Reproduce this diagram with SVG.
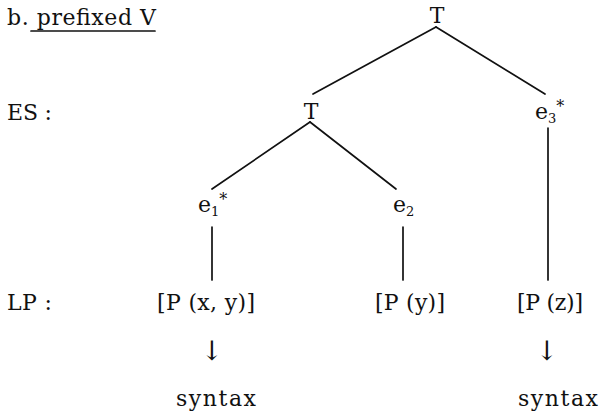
<svg xmlns="http://www.w3.org/2000/svg" width="601" height="412" viewBox="0 0 601 412">
<style>
text{font-family:"DejaVu Serif","Liberation Serif",serif;font-size:22px;fill:#111}
.sub{font-size:13px}
.sup{font-size:16px}
.ln{stroke:#111;stroke-width:1.7;fill:none;stroke-linecap:round}
.arr{font-family:"DejaVu Serif","Liberation Serif",serif;font-size:27px}
</style>
<rect width="601" height="412" fill="#fff"/>
<g id="title">
<text x="7" y="25" textLength="149" lengthAdjust="spacing">b. prefixed V</text>
<line class="ln" x1="31" y1="31" x2="155" y2="31"/>
</g>
<g id="labels">
<text x="7" y="120" textLength="45" lengthAdjust="spacing">ES :</text>
<text x="7" y="310" textLength="45" lengthAdjust="spacing">LP :</text>
</g>
<g id="connectors">
<line class="ln" x1="436" y1="27" x2="313" y2="94"/>
<line class="ln" x1="436" y1="27" x2="545" y2="94"/>
<line class="ln" x1="310" y1="122" x2="212" y2="189"/>
<line class="ln" x1="310" y1="122" x2="396" y2="189"/>
<line class="ln" x1="212" y1="227" x2="212" y2="280"/>
<line class="ln" x1="403" y1="227" x2="403" y2="280"/>
<line class="ln" x1="548" y1="128" x2="548" y2="280"/>
</g>
<g id="node-T-root"><text x="437" y="23" text-anchor="middle">T</text></g>
<g id="node-T-mid"><text x="311" y="119" text-anchor="middle">T</text></g>
<g id="node-e3"><text x="535" y="119">e<tspan class="sub" dy="4">3</tspan><tspan class="sup" dy="-11">*</tspan></text></g>
<g id="node-e1"><text x="198" y="212">e<tspan class="sub" dy="4">1</tspan><tspan class="sup" dy="-11">*</tspan></text></g>
<g id="node-e2"><text x="393" y="212">e<tspan class="sub" dy="4">2</tspan></text></g>
<g id="node-lp1"><text x="157" y="310" textLength="98" lengthAdjust="spacing">[P (x, y)]</text></g>
<g id="node-lp2"><text x="375" y="310" textLength="70" lengthAdjust="spacing">[P (y)]</text></g>
<g id="node-lp3"><text x="517" y="310" textLength="66" lengthAdjust="spacing">[P (z)]</text></g>
<g id="node-arrow1"><text class="arr" x="212" y="360" text-anchor="middle">↓</text></g>
<g id="node-arrow2"><text class="arr" x="547" y="360" text-anchor="middle">↓</text></g>
<g id="node-syntax1"><text x="176" y="406" textLength="80" lengthAdjust="spacing">syntax</text></g>
<g id="node-syntax2"><text x="518" y="406" textLength="80" lengthAdjust="spacing">syntax</text></g>
</svg>
